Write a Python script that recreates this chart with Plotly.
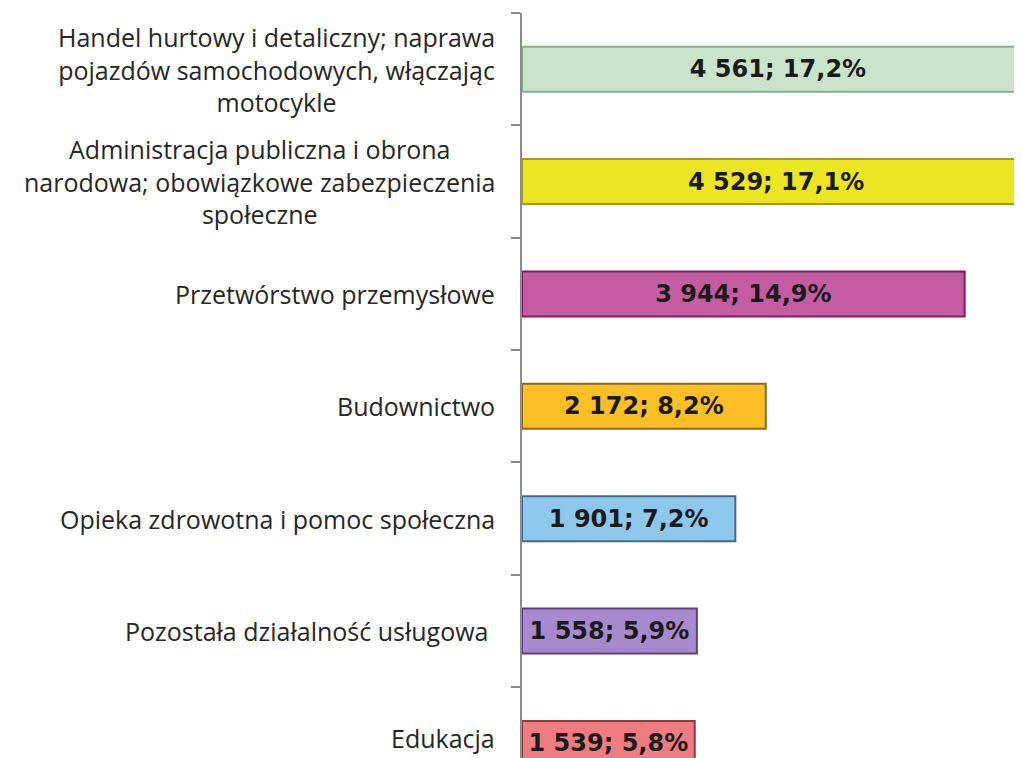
import plotly.graph_objects as go

categories = [
    "Handel hurtowy i detaliczny; naprawa<br>pojazdów samochodowych, włączając<br>motocykle",
    "Administracja publiczna i obrona<br>narodowa; obowiązkowe zabezpieczenia<br>społeczne",
    "Przetwórstwo przemysłowe",
    "Budownictwo",
    "Opieka zdrowotna i pomoc społeczna",
    "Pozostała działalność usługowa ",
    "Edukacja",
]
values = [4561, 4529, 3944, 2172, 1901, 1558, 1539]
shares = ["17,2%", "17,1%", "14,9%", "8,2%", "7,2%", "5,9%", "5,8%"]
fill_colors = ["#C9E4CB", "#ECE524", "#C45CA2", "#FDBF26", "#8EC7EC", "#A68ACD", "#EE7C80"]
edge_colors = ["#86B08C", "#9E9A25", "#7A1F66", "#8C6A1A", "#3F6C8E", "#5E3F86", "#8C3A3E"]


def fmt(v):
    return f"{v:,}".replace(",", " ")


labels = [f"{fmt(v)}; {p}" for v, p in zip(values, shares)]
ids = list(range(len(categories)))

fig = go.Figure()
fig.add_trace(go.Bar(
    x=values,
    y=ids,
    orientation="h",
    width=0.4,
    marker=dict(color=fill_colors, line=dict(color=edge_colors, width=2)),
    text=labels,
    textposition="inside",
    insidetextanchor="middle",
    textangle=0,
    textfont=dict(family="DejaVu Sans", size=24, color="#1a1a1a", weight="bold"),
    cliponaxis=True,
    showlegend=False,
))

last = len(categories) - 1
for i, c in enumerate(categories):
    fig.add_annotation(
        x=0, xref="paper", xanchor="right", xshift=-25,
        y=i, yref="y", yanchor="middle",
        yshift=5 if i == last else 0,
        text=c, align="center", showarrow=False,
        font=dict(family="Open Sans", size=25, color="#262626"),
    )

# page body has an 8px margin; the figure fills the rest of the 1022x758 window
fig.update_layout(
    width=1014, height=750,
    margin=dict(l=514, r=0, t=5, b=0),
    plot_bgcolor="white", paper_bgcolor="white",
)
fig.update_xaxes(range=[0, 4455], visible=False)
fig.update_yaxes(
    range=[6.13, -0.5],
    tickmode="array",
    tickvals=[i - 0.5 for i in range(len(categories))],
    ticktext=["" for _ in categories],
    ticks="outside", ticklen=9, tickcolor="#8C8C8C", tickwidth=1.5,
    showline=True, linecolor="#8C8C8C", linewidth=1.5,
    showgrid=False, zeroline=False,
)

fig.write_html("out.html")
